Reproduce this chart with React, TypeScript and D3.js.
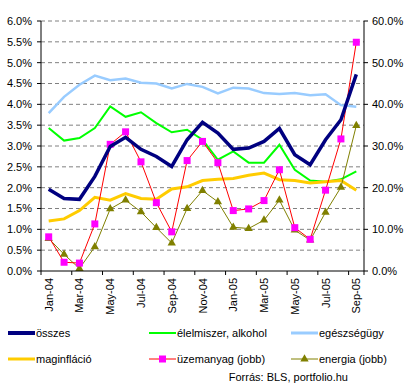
import * as d3 from "d3";

const months = [
  "Jan-04", "Feb-04", "Mar-04", "Apr-04", "May-04", "Jun-04", "Jul-04",
  "Aug-04", "Sep-04", "Oct-04", "Nov-04", "Dec-04", "Jan-05", "Feb-05",
  "Mar-05", "Apr-05", "May-05", "Jun-05", "Jul-05", "Aug-05", "Sep-05",
];

// left axis (%)
const osszes = [1.96, 1.74, 1.72, 2.27, 2.99, 3.21, 2.92, 2.75, 2.51, 3.15, 3.57, 3.31, 2.92, 2.95, 3.11, 3.42, 2.79, 2.55, 3.15, 3.63, 4.72];
const elelmiszer = [3.43, 3.13, 3.19, 3.43, 3.95, 3.7, 3.81, 3.55, 3.33, 3.39, 3.15, 2.67, 2.87, 2.6, 2.6, 3.03, 2.43, 2.17, 2.14, 2.2, 2.39];
const egeszseg = [3.79, 4.18, 4.47, 4.69, 4.58, 4.62, 4.52, 4.5, 4.38, 4.49, 4.42, 4.26, 4.4, 4.38, 4.27, 4.25, 4.27, 4.22, 4.24, 3.98, 3.94];
const maginflacio = [1.2, 1.25, 1.45, 1.77, 1.7, 1.86, 1.74, 1.72, 1.97, 2.02, 2.17, 2.2, 2.22, 2.3, 2.35, 2.19, 2.17, 2.11, 2.14, 2.17, 1.94];
// right axis (%)
const uzemanyag = [8.2, 2.1, 1.9, 11.3, 30.4, 33.4, 26.2, 16.4, 9.4, 26.5, 31.1, 26.0, 14.5, 14.9, 16.9, 24.3, 10.4, 7.6, 19.4, 31.7, 54.9];
const energia = [7.8, 4.0, 0.6, 5.8, 14.9, 17.0, 14.2, 10.4, 6.7, 15.0, 19.3, 16.6, 10.5, 10.2, 12.2, 17.0, 9.8, 7.4, 14.1, 20.1, 34.9];

const leftTicks = d3.range(0, 6.01, 0.5);
const rightTicks = d3.range(0, 60.1, 10);

const font = "'Liberation Sans', Arial, sans-serif";

export default function App() {
  const left = 41, right = 364, top = 21, bottom = 271;
  const x = d3.scaleBand<string>().domain(months).range([left, right]);
  const cx = (i: number) => (x(months[i]) as number) + x.bandwidth() / 2;
  const yL = d3.scaleLinear().domain([0, 6]).range([bottom, top]);
  const yR = d3.scaleLinear().domain([0, 60]).range([bottom, top]);

  const lineL = (arr: number[]) =>
    d3.line<number>().x((_, i) => cx(i)).y((d) => yL(d))(arr) as string;
  const lineR = (arr: number[]) =>
    d3.line<number>().x((_, i) => cx(i)).y((d) => yR(d))(arr) as string;

  const tri = d3.symbol().type(d3.symbolTriangle).size(30)() as string;

  const legendRows = [
    [
      { label: "összes", color: "#000080", w: 4, x0: 8 },
      { label: "élelmiszer, alkohol", color: "#00FF00", w: 2, x0: 149 },
      { label: "egészségügy", color: "#99CCFF", w: 3, x0: 291 },
    ],
    [
      { label: "maginfláció", color: "#FFCC00", w: 3, x0: 8 },
      { label: "üzemanyag (jobb)", color: "#FF0000", w: 1, x0: 149, marker: "sq" },
      { label: "energia (jobb)", color: "#808000", w: 1, x0: 291, marker: "tri" },
    ],
  ];

  return (
    <svg
      width={407}
      height={388}
      style={{ position: "absolute", left: 0, top: 0, background: "#fff" }}
      fontFamily={font}
      fontSize={11}
    >
      {/* gridlines */}
      {leftTicks.slice(1).map((t) => (
        <line key={t} x1={left} x2={right} y1={yL(t)} y2={yL(t)} stroke="#808080" strokeDasharray="4,3" />
      ))}

      {/* lines */}
      <path d={lineL(egeszseg)} fill="none" stroke="#99CCFF" strokeWidth={2.5} />
      <path d={lineL(elelmiszer)} fill="none" stroke="#00FF00" strokeWidth={2} />
      <path d={lineL(maginflacio)} fill="none" stroke="#FFCC00" strokeWidth={3} />
      <path d={lineR(energia)} fill="none" stroke="#808000" strokeWidth={1} />
      {energia.map((v, i) => (
        <path key={i} d={tri} transform={`translate(${cx(i)},${yR(v)})`} fill="#808000" />
      ))}
      <path d={lineR(uzemanyag)} fill="none" stroke="#FF0000" strokeWidth={1} />
      {uzemanyag.map((v, i) => (
        <rect key={i} x={cx(i) - 3.5} y={yR(v) - 3.5} width={7} height={7} fill="#FF00FF" />
      ))}
      <path d={lineL(osszes)} fill="none" stroke="#000080" strokeWidth={3.5} />

      {/* axes */}
      <line x1={left} x2={left} y1={top} y2={bottom} stroke="#000" />
      <line x1={right} x2={right} y1={top} y2={bottom} stroke="#000" />
      <line x1={left} x2={right} y1={bottom} y2={bottom} stroke="#000" />
      {leftTicks.map((t) => (
        <g key={t}>
          <line x1={left - 4} x2={left} y1={yL(t)} y2={yL(t)} stroke="#000" />
          <text x={left - 9} y={yL(t)} dy="0.35em" textAnchor="end">
            {t.toFixed(1)}%
          </text>
        </g>
      ))}
      {rightTicks.map((t) => (
        <g key={t}>
          <line x1={right} x2={right + 4} y1={yR(t)} y2={yR(t)} stroke="#000" />
          <text x={right + 8} y={yR(t)} dy="0.35em">
            {t.toFixed(1)}%
          </text>
        </g>
      ))}
      {months.map((m, i) =>
        i % 2 === 0 ? (
          <g key={m}>
            <line x1={x(m) as number} x2={x(m) as number} y1={bottom} y2={bottom + 4} stroke="#000" />
            <text
              transform={`translate(${cx(i) + 4},${bottom + 7}) rotate(-90)`}
              textAnchor="end"
            >
              {m}
            </text>
          </g>
        ) : null
      )}
      <line x1={right} x2={right} y1={bottom} y2={bottom + 4} stroke="#000" />

      {/* legend */}
      {legendRows.map((row, r) =>
        row.map((it: any) => {
          const ly = 333 + r * 26;
          return (
            <g key={it.label}>
              <line x1={it.x0} x2={it.x0 + 27} y1={ly} y2={ly} stroke={it.color} strokeWidth={it.w} />
              {it.marker === "sq" && (
                <rect x={it.x0 + 10} y={ly - 3.5} width={7} height={7} fill="#FF00FF" />
              )}
              {it.marker === "tri" && (
                <path d={tri} transform={`translate(${it.x0 + 13.5},${ly})`} fill="#808000" />
              )}
              <text x={it.x0 + 28} y={ly} dy="0.35em">
                {it.label}
              </text>
            </g>
          );
        })
      )}
      <text x={348} y={377} dy="0.35em" textAnchor="end">
        Forrás: BLS, portfolio.hu
      </text>
    </svg>
  );
}
